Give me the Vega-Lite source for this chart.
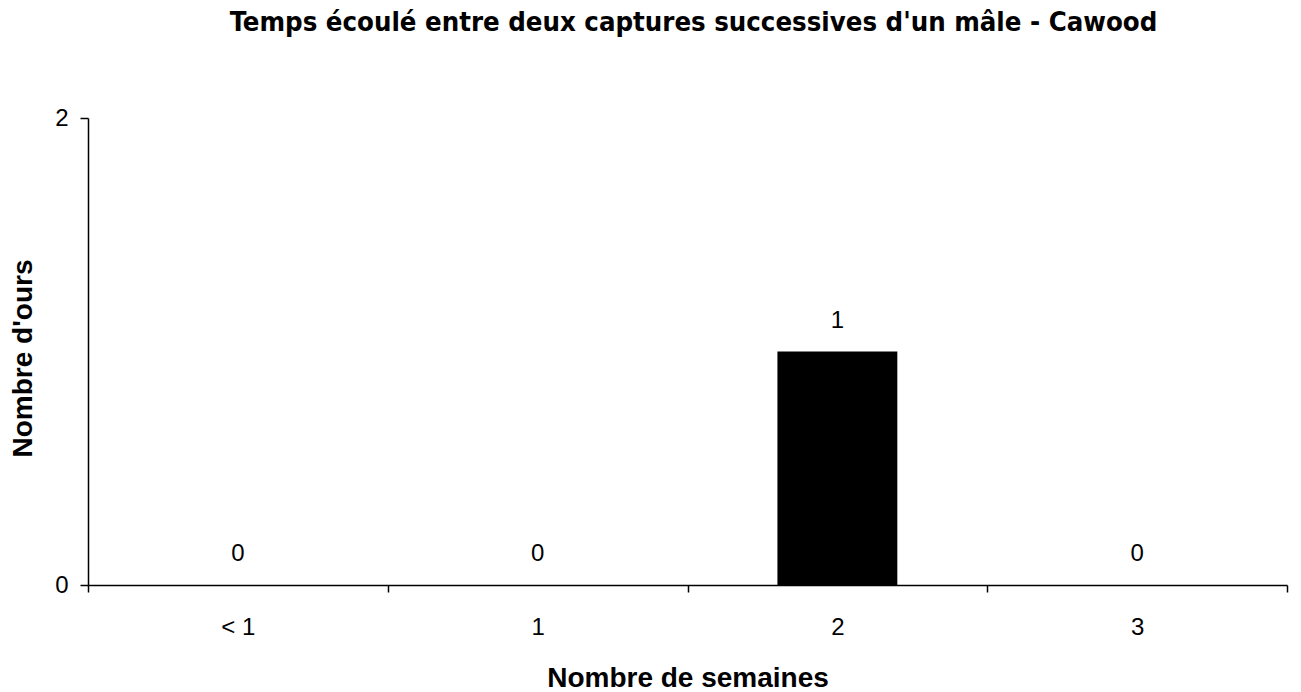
{
  "$schema": "https://vega.github.io/schema/vega-lite/v6.json",
  "autosize": "none",
  "width": 1199,
  "height": 467,
  "padding": {"left": 88, "top": 118, "right": 14, "bottom": 107},
  "background": "white",
  "title": {
    "text": "Temps écoulé entre deux captures successives d'un mâle - Cawood",
    "font": "DejaVu Sans Condensed, Liberation Sans",
    "fontSize": 27.3,
    "fontWeight": "bold",
    "color": "black",
    "anchor": "middle",
    "baseline": "alphabetic",
    "offset": 48,
    "dx": 6
  },
  "config": {
    "view": {"stroke": null},
    "axis": {"grid": false, "domainColor": "black", "tickColor": "black", "labelColor": "black", "titleColor": "black", "labelFont": "Liberation Sans", "titleFont": "Liberation Sans", "domainWidth": 1.5, "tickWidth": 1.5}
  },
  "data": {
    "values": [
      {"semaines": "< 1", "ours": 0},
      {"semaines": "1", "ours": 0},
      {"semaines": "2", "ours": 1},
      {"semaines": "3", "ours": 0}
    ]
  },
  "encoding": {
    "x": {
      "field": "semaines",
      "type": "nominal",
      "sort": null,
      "scale": {"paddingInner": 0, "paddingOuter": 0},
      "axis": {
        "title": "Nombre de semaines",
        "titleFontSize": 28,
        "titleFontWeight": "bold",
        "titleBaseline": "alphabetic",
        "titleY": 101,
        "labelAngle": 0,
        "labelFontSize": 24,
        "labelPadding": 23,
        "tickSize": 7,
        "tickBand": "extent"
      }
    },
    "y": {
      "field": "ours",
      "type": "quantitative",
      "scale": {"domain": [0, 2]},
      "axis": {
        "title": "Nombre d'ours",
        "titleFontSize": 28,
        "titleFontWeight": "bold",
        "titleBaseline": "alphabetic",
        "titleX": -57,
        "titleY": 240,
        "values": [0, 1, 2],
        "format": "d",
        "labelFontSize": 24,
        "labelPadding": 12,
        "tickSize": 8
      }
    }
  },
  "layer": [
    {
      "mark": {"type": "bar", "color": "black", "width": {"band": 0.4}}
    },
    {
      "mark": {"type": "text", "font": "Liberation Sans", "fontSize": 24, "color": "black", "baseline": "alphabetic", "dy": -24},
      "encoding": {"text": {"field": "ours", "type": "quantitative"}}
    }
  ]
}
